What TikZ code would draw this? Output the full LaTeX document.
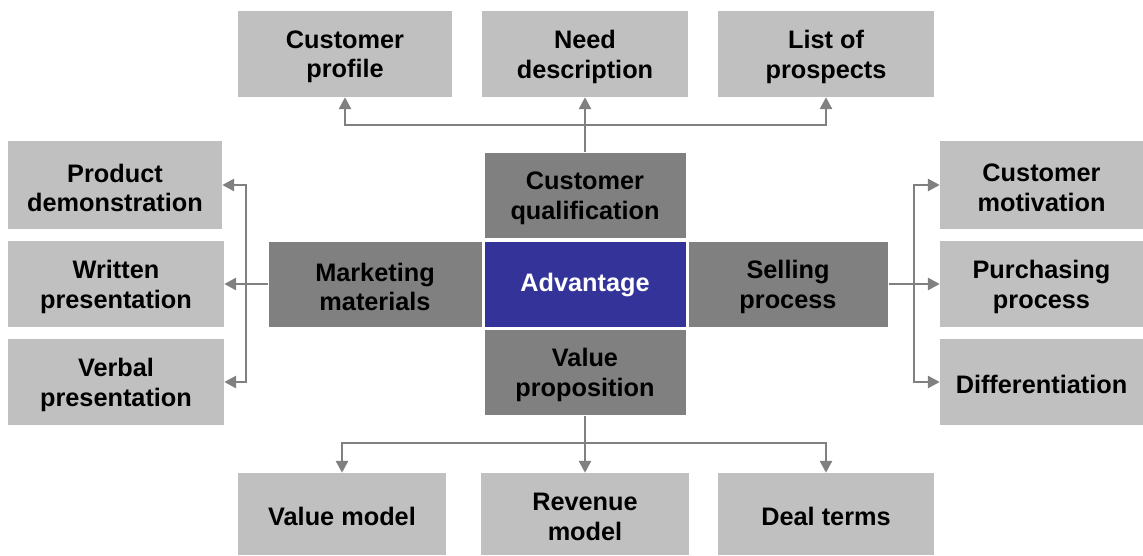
\documentclass[tikz,border=0pt]{standalone}
\usepackage{fontspec}
\setmainfont{Liberation Sans}
\usetikzlibrary{arrows.meta}
\definecolor{lightbox}{HTML}{C0C0C0}
\definecolor{darkbox}{HTML}{808080}
\definecolor{advblue}{HTML}{333399}
\definecolor{lineg}{HTML}{808080}
\tikzset{
  base/.style={rectangle, inner sep=2pt, align=center, text=black,
    font=\fontsize{25.3}{29.5}\selectfont\bfseries},
  lbox/.style={base, fill=lightbox},
  dbox/.style={base, fill=darkbox, draw=white, line width=1pt},
  abox/.style={base, fill=advblue, draw=white, line width=1pt, text=white},
  conn/.style={draw=lineg, line width=2.8pt, -{Triangle[length=12pt,width=12pt]}},
  txt/.style={font=\fontsize{25.3}{29.5}\selectfont\bfseries, align=center, inner sep=0pt}
}
\begin{document}
\begin{tikzpicture}[x=1pt,y=-1pt]
\useasboundingbox (0,0) rectangle (1143,555);
% top boxes
\node[lbox, minimum width=214pt, minimum height=86pt] (cp) at (345,54) {};
\node[lbox, minimum width=206pt, minimum height=86pt] (nd) at (585,54) {};
\node[lbox, minimum width=216pt, minimum height=86pt] (lp) at (826,54) {};
% center
\node[dbox, minimum width=202pt, minimum height=86pt] (cq) at (585,195.5) {};
\node[dbox, minimum width=214pt, minimum height=86pt] (mm) at (375,284) {};
\node[abox, minimum width=202pt, minimum height=86pt] (adv) at (585,284) {};
\node[dbox, minimum width=200pt, minimum height=86pt] (sp) at (788,284) {};
\node[dbox, minimum width=202pt, minimum height=86pt] (vp) at (585,372) {};
% left
\node[lbox, minimum width=214pt, minimum height=88pt] (pd) at (115,185) {};
\node[lbox, minimum width=216pt, minimum height=86pt] (wp) at (116,284) {};
\node[lbox, minimum width=216pt, minimum height=86pt] (vb) at (116,382) {};
% right
\node[lbox, minimum width=203pt, minimum height=88pt] (cm) at (1041.5,185) {};
\node[lbox, minimum width=203pt, minimum height=86pt] (pp) at (1041.5,284) {};
\node[lbox, minimum width=203pt, minimum height=86pt] (df) at (1041.5,382) {};
% bottom
\node[lbox, minimum width=208pt, minimum height=82pt] (vm) at (342,514) {};
\node[lbox, minimum width=208pt, minimum height=82pt] (rm) at (585,514) {};
\node[lbox, minimum width=216pt, minimum height=82pt] (dt) at (826,514) {};
% labels
\foreach \n/\t in {cp/{Customer\\profile}, nd/{Need\\description}, lp/{List of\\prospects},
  cq/{Customer\\qualification}, mm/{Marketing\\materials}, sp/{Selling\\process},
  vp/{Value\\proposition}, pd/{Product\\demonstration}, wp/{Written\\presentation},
  vb/{Verbal\\presentation}, cm/{Customer\\motivation}, pp/{Purchasing\\process},
  rm/{Revenue\\model}}
  \node[txt, anchor=center, yshift=-3pt] (\n-l) at (\n.center) {\t};
\foreach \n/\t in {df/Differentiation, vm/{Value model}, dt/{Deal terms}}
  \node[txt, anchor=center, yshift=-2pt] (\n-l) at (\n.center) {\t};
\node[txt, text=white, anchor=center, yshift=-1pt] (adv-l) at (adv.center) {Advantage};
% junctions
\coordinate (tj) at (585,125);
\coordinate (bj) at (585,443);
\coordinate (lj) at (246,284);
\coordinate (rj) at (914,284);
% top connectors
\draw[conn] (cq.north) -- (nd.south);
\draw[conn] (tj) -| (cp.south);
\draw[conn] (tj) -| (lp.south);
% bottom connectors
\draw[conn] (vp.south) -- (rm.north);
\draw[conn] (bj) -| (vm.north);
\draw[conn] (bj) -| (dt.north);
% left connectors
\draw[conn] (mm.west) -- (wp.east);
\draw[conn] (lj) |- (pd.east);
\draw[conn] (lj) |- (vb.east);
% right connectors
\draw[conn] (sp.east) -- (pp.west);
\draw[conn] (rj) |- (cm.west);
\draw[conn] (rj) |- (df.west);
\end{tikzpicture}
\end{document}
